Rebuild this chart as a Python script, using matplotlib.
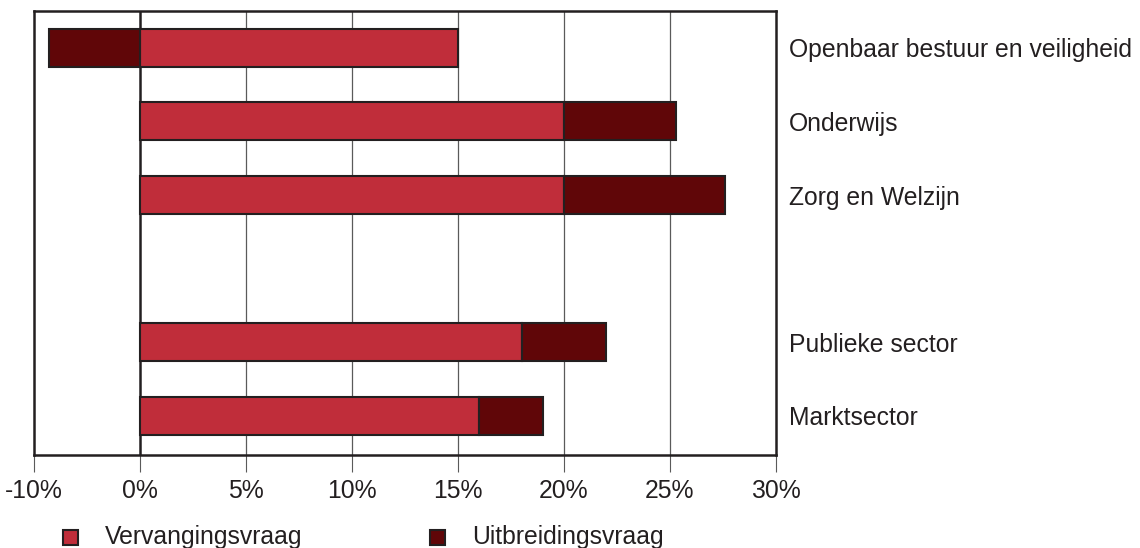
import numpy as np
import matplotlib.pyplot as plt
from matplotlib.patches import Rectangle

# categories, top to bottom
sectors = ['Openbaar bestuur en veiligheid', 'Onderwijs', 'Zorg en Welzijn',
           'Publieke sector', 'Marktsector']
vervanging = [15.0, 20.0, 20.0, 18.0, 16.0]
uitbreiding = [-4.3, 5.3, 7.6, 4.0, 3.0]

tick_vals = [-5, 0, 5, 10, 15, 20, 25, 30]
tick_labels = ['-10%', '0%', '5%', '10%', '15%', '20%', '25%', '30%']

red = '#c02d3a'
darkred = '#600608'
ink = '#231f20'
fs = 17.8

plt.rcParams['font.family'] = ['Liberation Sans', 'DejaVu Sans']

fig = plt.figure(figsize=(11.4, 5.48), dpi=100)
ax = fig.add_axes([34 / 1140, 93 / 548, 742 / 1140, 444 / 548])

# slot positions (one empty slot between the sectors and the totals)
ypos = np.array([5, 4, 3, 1, 0])
verv = np.array(vervanging)
uitb = np.array(uitbreiding)
left_uitb = np.where(uitb > 0, verv, 0)

ax.barh(ypos, verv, height=0.516, color=red, edgecolor=ink, linewidth=1.5, zorder=3)
ax.barh(ypos, uitb, left=left_uitb, height=0.516, color=darkred,
        edgecolor=ink, linewidth=1.5, zorder=3)

ax.set_xlim(-5, 30)
ax.set_ylim(-0.53, 5.5)

for v in tick_vals[2:-1]:
    ax.axvline(v, color='#5a5a5a', linewidth=0.9, zorder=1)
ax.axvline(0, color=ink, linewidth=1.8, zorder=2)

ax.set_xticks(tick_vals)
ax.set_xticklabels(tick_labels)
ax.tick_params(axis='x', direction='out', length=12, width=0.8, color='#5a5a5a',
               pad=5, labelsize=fs, labelcolor=ink)

ax.yaxis.tick_right()
ax.set_yticks(ypos)
ax.set_yticklabels(sectors)
ax.tick_params(axis='y', length=0, pad=9.5, labelsize=fs, labelcolor=ink)

for s in ax.spines.values():
    s.set_color(ink)
    s.set_linewidth(1.8)

# legend
legend_items = [('Vervangingsvraag', red, 63), ('Uitbreidingsvraag', darkred, 430)]
for label, col, x0 in legend_items:
    fig.add_artist(Rectangle((x0 / 1140, (548 - 545) / 548), 15 / 1140, 15 / 548,
                             transform=fig.transFigure, facecolor=col,
                             edgecolor=ink, linewidth=1.5))
    fig.text((x0 + 42) / 1140, (548 - 537) / 548, label, fontsize=fs,
             color=ink, va='center', ha='left')

fig.savefig('out.png', dpi=100)
